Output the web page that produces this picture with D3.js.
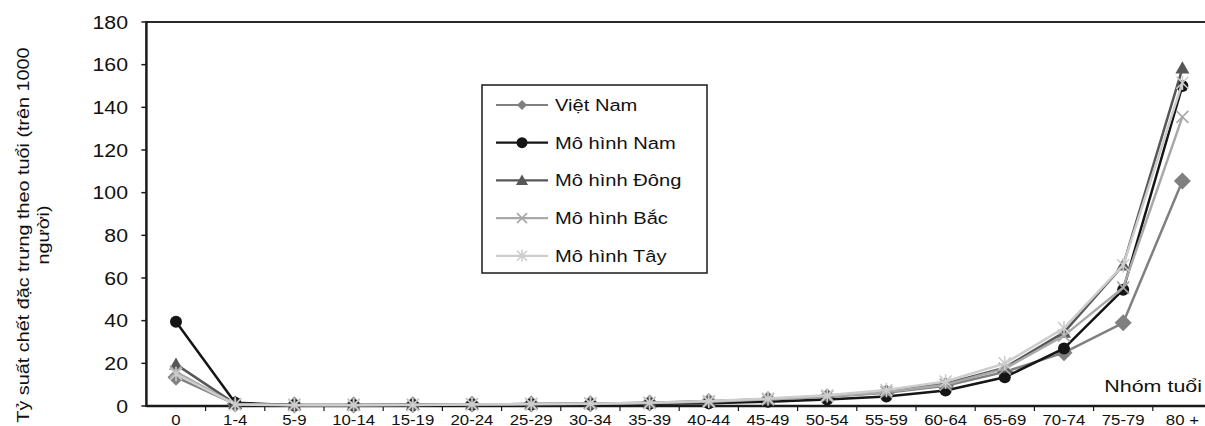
<!DOCTYPE html>
<html><head><meta charset="utf-8">
<script src="https://cdn.jsdelivr.net/npm/d3@7"></script>
<style>
html,body{margin:0;padding:0;background:#fff;overflow:hidden}
svg{display:block;font-family:"Liberation Sans",Arial,sans-serif}
</style></head><body>
<svg id="chart" width="1205" height="426"></svg>
<script>
const categories = ["0","1-4","5-9","10-14","15-19","20-24","25-29","30-34","35-39","40-44","45-49","50-54","55-59","60-64","65-69","70-74","75-79","80 +"];
const vietNam  = [13.5,0.9,0.5,0.5,0.6,0.8,0.9,1.1,1.4,2.1,3.0,4.3,6.2,9.5,16.0,25.0,39.0,105.5];
const moHinhNam  = [39.5,1.5,0.4,0.4,0.5,0.6,0.7,0.8,1.0,1.3,2.0,3.0,4.5,7.3,13.5,27.0,54.5,150.0];
const moHinhDong = [19.5,1.0,0.5,0.5,0.6,0.8,0.9,1.1,1.5,2.2,3.2,4.8,7.0,10.5,18.0,34.5,66.0,158.3];
const moHinhBac  = [16.0,0.8,0.5,0.5,0.6,0.8,0.9,1.1,1.4,2.0,3.1,4.5,6.5,10.0,17.5,33.0,55.5,135.5];
const moHinhTay  = [15.0,0.7,0.4,0.4,0.5,0.7,0.9,1.1,1.5,2.3,3.5,5.0,7.5,11.5,20.0,36.5,66.0,151.5];
const seriesNames = ["Việt Nam","Mô hình Nam","Mô hình Đông","Mô hình Bắc","Mô hình Tây"];
const yTicks = [0,20,40,60,80,100,120,140,160,180];
const yTitleLines = ["Tỷ suất chết đặc trưng theo tuổi (trên 1000","người)"];
const xTitle = "Nhóm tuổi";

const series = [
  {name: seriesNames[0], values: vietNam,    color:"#808080", marker:"diamond"},
  {name: seriesNames[1], values: moHinhNam,  color:"#151515", marker:"circle"},
  {name: seriesNames[2], values: moHinhDong, color:"#575757", marker:"triangle"},
  {name: seriesNames[3], values: moHinhBac,  color:"#a8a8a8", marker:"cross"},
  {name: seriesNames[4], values: moHinhTay,  color:"#cdcdcd", marker:"star"}
];

const svg = d3.select("#chart");
const pLeft = 146.4, pTop = 22, pBottom = 406, band = 59.2;
const x = d3.scaleBand().domain(categories).range([pLeft, pLeft + band*categories.length]).padding(0);
const y = d3.scaleLinear().domain([0,180]).range([pBottom, pTop]);
const xc = c => x(c) + x.bandwidth()/2;

function stext(parent, px, py, str, size, anchor, sx, rot){
  const g = parent.append("g").attr("transform", `translate(${px},${py})` + (rot ? ` rotate(${rot})` : "") + ` scale(${sx},1)`);
  g.append("text").attr("x",0).attr("y",0).attr("text-anchor",anchor).attr("font-size",size).attr("fill","#111").text(str);
  return g;
}

// top border
svg.append("line").attr("x1",pLeft).attr("x2",1205).attr("y1",pTop).attr("y2",pTop).attr("stroke","#2a2a2a").attr("stroke-width",2);

// y axis ticks & labels
yTicks.forEach(t=>{
  svg.append("line").attr("x1",pLeft-5).attr("x2",pLeft).attr("y1",y(t)).attr("y2",y(t)).attr("stroke","#1a1a1a").attr("stroke-width",1.5);
  stext(svg, 128, y(t)+6.5, String(t), 18.5, "end", 1.15);
});
// x ticks & labels
categories.forEach((c,i)=>{
  if(i>0) svg.append("line").attr("x1",x(c)).attr("x2",x(c)).attr("y1",pBottom).attr("y2",pBottom+5).attr("stroke","#1a1a1a").attr("stroke-width",1.2);
  stext(svg, xc(c), 424.5, c, 15, "middle", 1.12);
});
// axes lines
svg.append("line").attr("x1",pLeft).attr("x2",1205).attr("y1",pBottom).attr("y2",pBottom).attr("stroke","#1a1a1a").attr("stroke-width",2.5);
svg.append("line").attr("x1",pLeft).attr("x2",pLeft).attr("y1",pTop-1).attr("y2",pBottom+1).attr("stroke","#1a1a1a").attr("stroke-width",2.5);

// y title
stext(svg, 29, 235, yTitleLines[0], 16.5, "middle", 1.2, -90);
stext(svg, 49, 235, yTitleLines[1], 16.5, "middle", 1.2, -90);
// x title
stext(svg, 1202, 392, xTitle, 16.5, "end", 1.3);

function drawMarker(g, type, color, cx, cy, s){
  if(type==="diamond"){
    g.append("path").attr("d",`M${cx},${cy-s} L${cx+s},${cy} L${cx},${cy+s} L${cx-s},${cy} Z`).attr("fill",color);
  } else if(type==="circle"){
    g.append("circle").attr("cx",cx).attr("cy",cy).attr("r",s).attr("fill",color);
  } else if(type==="triangle"){
    g.append("path").attr("d",`M${cx},${cy-s} L${cx+s},${cy+s*0.75} L${cx-s},${cy+s*0.75} Z`).attr("fill",color);
  } else if(type==="cross"){
    g.append("path").attr("d",`M${cx-s},${cy-s} L${cx+s},${cy+s} M${cx-s},${cy+s} L${cx+s},${cy-s}`).attr("stroke",color).attr("stroke-width",1.6).attr("fill","none");
  } else if(type==="star"){
    g.append("path").attr("d",`M${cx-s},${cy-s} L${cx+s},${cy+s} M${cx-s},${cy+s} L${cx+s},${cy-s} M${cx},${cy-s*1.2} L${cx},${cy+s*1.2}`).attr("stroke",color).attr("stroke-width",1.6).attr("fill","none");
  }
}
const dataSize = {diamond:8.5, circle:6, triangle:7, cross:6, star:6};
const legSize = {diamond:5, circle:5.5, triangle:6, cross:5, star:5};

const line = d3.line().x((d,i)=>xc(categories[i])).y(d=>y(d));
const plot = svg.append("g");
series.forEach(s=>{
  const g = plot.append("g");
  g.append("path").datum(s.values).attr("d",line).attr("fill","none").attr("stroke",s.color).attr("stroke-width",2.5).attr("stroke-linejoin","round");
  s.values.forEach((v,i)=>drawMarker(g, s.marker, s.color, xc(categories[i]), y(v), dataSize[s.marker]));
});

// legend
const lg = svg.append("g");
lg.append("rect").attr("x",482).attr("y",85).attr("width",225).attr("height",188).attr("fill","#fff").attr("stroke","#1a1a1a").attr("stroke-width",1.5);
series.forEach((s,i)=>{
  const cy = 105 + i*37.7;
  lg.append("line").attr("x1",496).attr("x2",548).attr("y1",cy).attr("y2",cy).attr("stroke",s.color).attr("stroke-width",2.2);
  drawMarker(lg, s.marker, s.color, 522, cy, legSize[s.marker]);
  stext(lg, 555, cy+6, s.name, 16.5, "start", 1.22);
});
</script></body></html>
